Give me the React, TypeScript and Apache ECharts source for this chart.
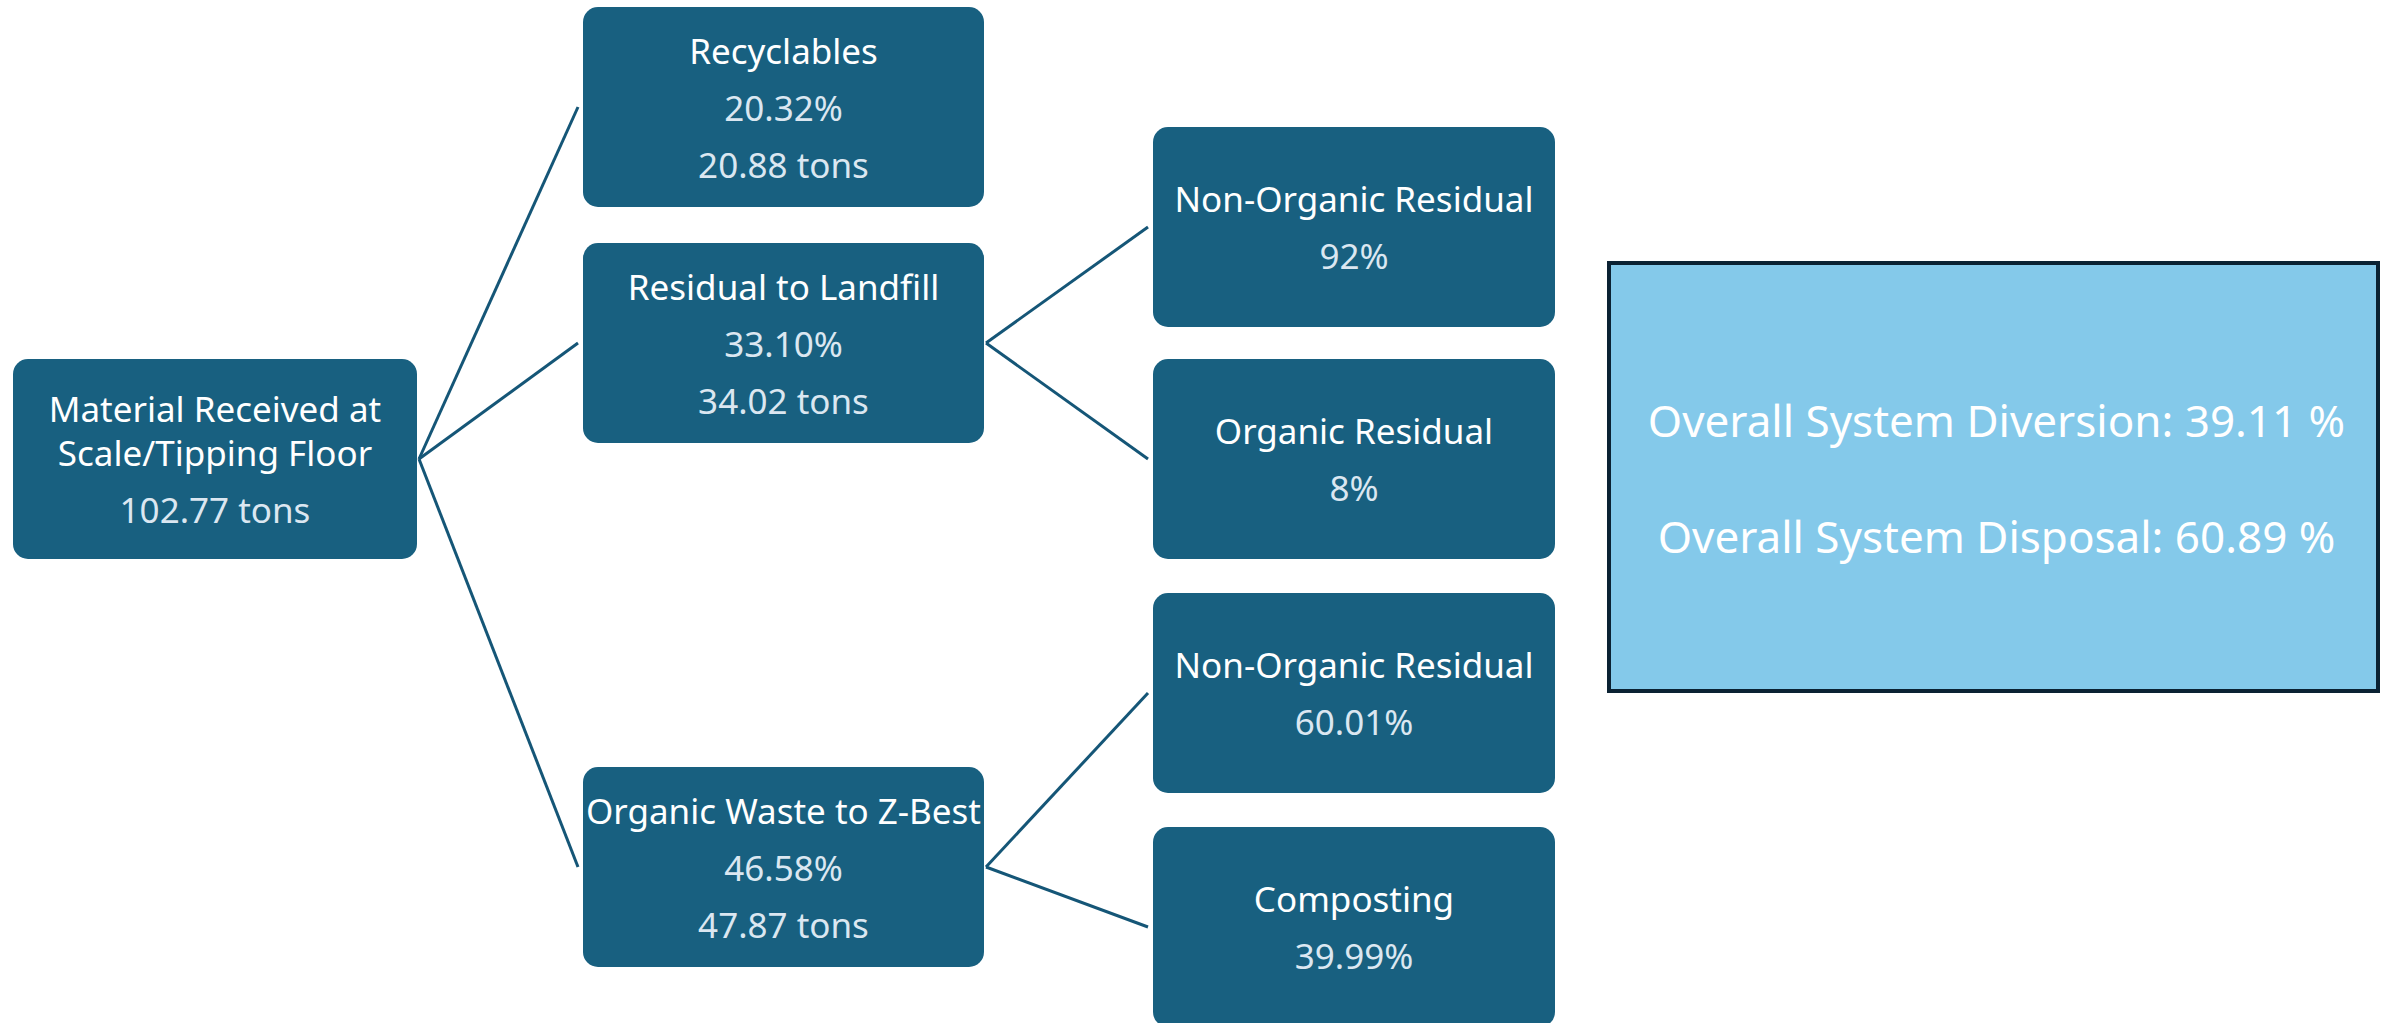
import React, { useEffect, useRef } from "react";
import * as echarts from "echarts";

const W = 2389;
const H = 1023;

// ---- data ----
const nodeTitles = [
  "Material Received at\nScale/Tipping Floor",
  "Recyclables",
  "Residual to Landfill",
  "Organic Waste to Z-Best",
  "Non-Organic Residual",
  "Organic Residual",
  "Non-Organic Residual",
  "Composting",
];
const nodePercents = ["", "20.32%", "33.10%", "46.58%", "92%", "8%", "60.01%", "39.99%"];
const nodeTons = ["102.77 tons", "20.88 tons", "34.02 tons", "47.87 tons", "", "", "", ""];
const nodeParents = [-1, 0, 0, 0, 2, 2, 3, 3];
const summaryLines = ["Overall System Diversion: 39.11 %", "Overall System Disposal: 60.89 %"];

// ---- layout ----
const nodeLevel = [0, 1, 1, 1, 2, 2, 2, 2];
const colLeft = [13, 583, 1153];
const colWidth = [404, 401, 402];
const nodeTop = [359, 7, 243, 767, 127, 359, 593, 827];
const nodeH = 200;
const summaryBox = { x: 1609, y: 263, w: 769, h: 428 };

const BOX = "#186080";
const LINK = "#155677";
const NUM = "#dbe7f1";
const FONT = "Noto Sans";
const FS = 35;

export default function App() {
  const ref = useRef<HTMLDivElement>(null);
  useEffect(() => {
    const chart = echarts.init(ref.current as HTMLDivElement, null, { renderer: "svg" });

    const nodeData = nodeTitles.map((_, i) => [colLeft[nodeLevel[i]], nodeTop[i], i]);
    const linkData: number[][] = [];
    nodeParents.forEach((p, c) => {
      if (p < 0) return;
      const lp = nodeLevel[p];
      const lc = nodeLevel[c];
      linkData.push([
        colLeft[lp] + colWidth[lp] + 2,
        nodeTop[p] + nodeH / 2,
        colLeft[lc] - 5,
        nodeTop[c] + nodeH / 2,
      ]);
    });

    const option: any = {
      animation: false,
      backgroundColor: "#ffffff",
      grid: { left: 0, right: 0, top: 0, bottom: 0 },
      xAxis: { type: "value", min: 0, max: W, show: false },
      yAxis: { type: "value", min: 0, max: H, inverse: true, show: false },
      series: [
        {
          type: "custom",
          name: "links",
          clip: false,
          silent: true,
          data: linkData,
          encode: { x: [0, 2], y: [1, 3] },
          renderItem: (params: any, api: any) => {
            const a = api.coord([api.value(0), api.value(1)]);
            const b = api.coord([api.value(2), api.value(3)]);
            return {
              type: "line",
              shape: { x1: a[0], y1: a[1], x2: b[0], y2: b[1] },
              style: { stroke: LINK, lineWidth: 3 },
            };
          },
        },
        {
          type: "custom",
          name: "nodes",
          clip: false,
          silent: true,
          data: nodeData,
          encode: { x: 0, y: 1 },
          renderItem: (params: any, api: any) => {
            const i = api.value(2);
            const lvl = nodeLevel[i];
            const tl = api.coord([api.value(0), api.value(1)]);
            const sz = api.size([colWidth[lvl], nodeH]);
            const cx = tl[0] + sz[0] / 2;
            const cy = tl[1] + sz[1] / 2;
            const titleLines = nodeTitles[i].split("\n");
            const extra = [nodePercents[i], nodeTons[i]].filter((s) => s);
            const span = (titleLines.length - 1) * 44 + extra.length * 57;
            let y = cy - span / 2;
            const children: any[] = [
              {
                type: "rect",
                shape: { x: tl[0], y: tl[1], width: sz[0], height: sz[1], r: 15 },
                style: { fill: BOX },
              },
            ];
            titleLines.forEach((t, k) => {
              if (k > 0) y += 44;
              children.push({
                type: "text",
                style: {
                  text: t, x: cx, y, align: "center", verticalAlign: "middle",
                  fill: "#ffffff", fontSize: FS, fontFamily: FONT,
                },
              });
            });
            extra.forEach((t) => {
              y += 57;
              children.push({
                type: "text",
                style: {
                  text: t, x: cx, y, align: "center", verticalAlign: "middle",
                  fill: NUM, fontSize: FS, fontFamily: FONT,
                },
              });
            });
            return { type: "group", children };
          },
        },
        {
          type: "custom",
          name: "summary",
          clip: false,
          silent: true,
          data: [[summaryBox.x, summaryBox.y]],
          encode: { x: 0, y: 1 },
          renderItem: (params: any, api: any) => {
            const tl = api.coord([api.value(0), api.value(1)]);
            const sz = api.size([summaryBox.w, summaryBox.h]);
            const cx = tl[0] + sz[0] / 2 + 3;
            return {
              type: "group",
              children: [
                {
                  type: "rect",
                  shape: { x: tl[0], y: tl[1], width: sz[0], height: sz[1] },
                  style: { fill: "#84c9ea", stroke: "#0b2233", lineWidth: 4 },
                },
                ...summaryLines.map((t, k) => ({
                  type: "text",
                  x: cx,
                  y: tl[1] + 157 + k * 116,
                  style: {
                    text: t, x: 0, y: 0, align: "center", verticalAlign: "middle",
                    fill: "#ffffff", fontSize: 44, fontFamily: FONT,
                  },
                })),
              ],
            };
          },
        },
      ],
    };
    chart.setOption(option);
    return () => chart.dispose();
  }, []);
  return (
    <div
      ref={ref}
      style={{ position: "fixed", left: 0, top: 0, width: W, height: H, background: "#ffffff" }}
    />
  );
}
